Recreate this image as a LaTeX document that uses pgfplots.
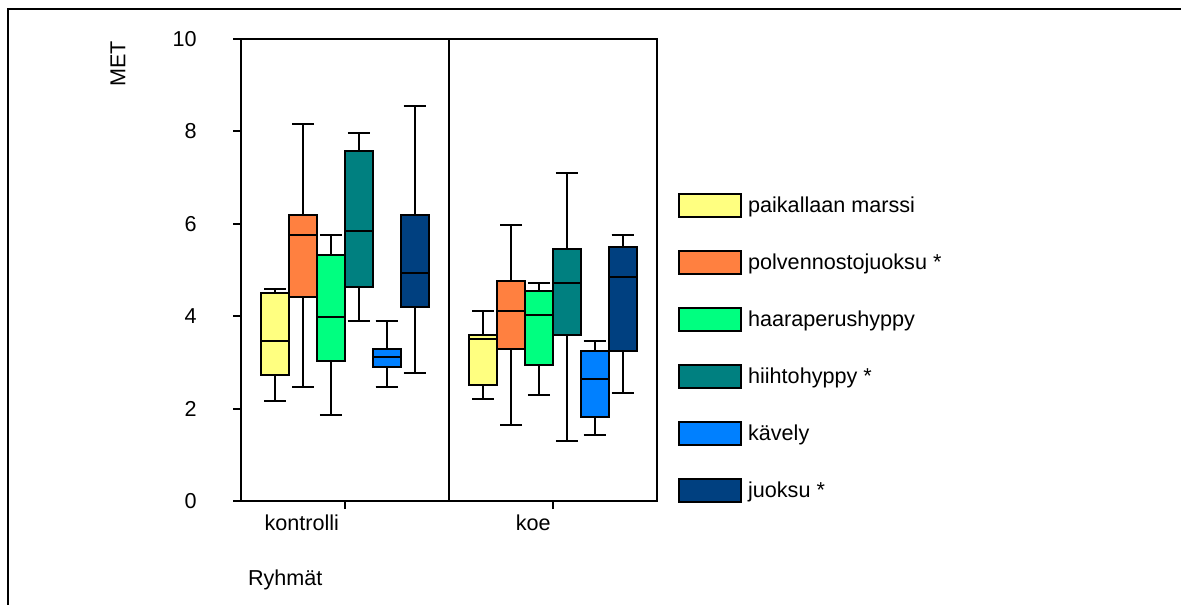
\documentclass[border=0pt]{standalone}
\usepackage{fontspec}
\setmainfont{Liberation Sans}
\usepackage{pgfplots}
\pgfplotsset{compat=1.18}
\usepgfplotslibrary{statistics}
\definecolor{cyel}{RGB}{255,255,128}
\definecolor{corg}{RGB}{255,128,64}
\definecolor{cgrn}{RGB}{0,255,128}
\definecolor{cteal}{RGB}{0,128,128}
\definecolor{cblue}{RGB}{0,128,255}
\definecolor{cnavy}{RGB}{0,64,128}
\pgfplotsset{
  mylegend/.style={legend image code/.code={\draw[##1,draw=black,line width=1pt] (0pt,-5.75pt) rectangle (31pt,5.75pt);}},
  bx/.style={boxplot prepared={#1, box extend=0.134, draw direction=y}, draw=black, line width=1pt, solid, forget plot},
}
\begin{document}
\begin{tikzpicture}[font=\fontsize{10.8}{13}\selectfont]
\useasboundingbox (0pt,0pt) rectangle (590.5pt,-302pt);
\draw[line width=1pt] (3.9pt,-310pt) -- (3.9pt,-4.75pt) -- (600pt,-4.75pt);
\begin{axis}[
  at={(120.5pt,-250.5pt)}, anchor=south west,
  width=208pt, height=231pt, scale only axis,
  xmin=0, xmax=2, ymin=0, ymax=10,
  ytick={0,2,4,6,8,10},
  xtick={0.5,1.5}, xticklabels={},
  tick align=outside, major tick length=4pt,
  xtick pos=bottom, ytick pos=left,
  axis line style={line width=1pt}, tick style={line width=1pt, black},
  /pgf/number format/assume math mode=true,
  yticklabel style={anchor=east, inner sep=0pt, xshift=-18pt},
  ylabel={MET},
  every axis y label/.style={at={(axis description cs:-0.296,0.946)}, rotate=90, anchor=center},
  xlabel={Ryhmät},
  every axis x label/.style={at={(axis description cs:0,-0.171)}, anchor=west},
  clip=false,
  legend style={draw=none, fill=none, at={(axis description cs:1.0498,0.667)}, anchor=north west,
    inner sep=0pt, row sep=16pt, column sep=3pt, nodes={inner sep=0pt}},
  legend cell align=left,
]
\addlegendimage{mylegend, fill=cyel}
\addlegendentry{paikallaan marssi}
\addlegendimage{mylegend, fill=corg}
\addlegendentry{polvennostojuoksu *}
\addlegendimage{mylegend, fill=cgrn}
\addlegendentry{haaraperushyppy}
\addlegendimage{mylegend, fill=cteal}
\addlegendentry{hiihtohyppy *}
\addlegendimage{mylegend, fill=cblue}
\addlegendentry{kävely}
\addlegendimage{mylegend, fill=cnavy}
\addlegendentry{juoksu *}
% kontrolli
\addplot[bx={draw position=0.165, lower whisker=2.17, lower quartile=2.72, median=3.47, upper quartile=4.50, upper whisker=4.59}, fill=cyel] coordinates {};
\addplot[bx={draw position=0.299, lower whisker=2.47, lower quartile=4.41, median=5.76, upper quartile=6.19, upper whisker=8.15}, fill=corg] coordinates {};
\addplot[bx={draw position=0.433, lower whisker=1.86, lower quartile=3.02, median=3.98, upper quartile=5.32, upper whisker=5.76}, fill=cgrn] coordinates {};
\addplot[bx={draw position=0.567, lower whisker=3.90, lower quartile=4.63, median=5.84, upper quartile=7.57, upper whisker=7.97}, fill=cteal] coordinates {};
\addplot[bx={draw position=0.701, lower whisker=2.47, lower quartile=2.90, median=3.11, upper quartile=3.29, upper whisker=3.90}, fill=cblue] coordinates {};
\addplot[bx={draw position=0.835, lower whisker=2.77, lower quartile=4.20, median=4.93, upper quartile=6.19, upper whisker=8.54}, fill=cnavy] coordinates {};
% koe
\addplot[bx={draw position=1.165, lower whisker=2.20, lower quartile=2.51, median=3.50, upper quartile=3.59, upper whisker=4.11}, fill=cyel] coordinates {};
\addplot[bx={draw position=1.299, lower whisker=1.64, lower quartile=3.29, median=4.11, upper quartile=4.76, upper whisker=5.97}, fill=corg] coordinates {};
\addplot[bx={draw position=1.433, lower whisker=2.29, lower quartile=2.94, median=4.02, upper quartile=4.54, upper whisker=4.72}, fill=cgrn] coordinates {};
\addplot[bx={draw position=1.567, lower whisker=1.29, lower quartile=3.59, median=4.72, upper quartile=5.45, upper whisker=7.10}, fill=cteal] coordinates {};
\addplot[bx={draw position=1.701, lower whisker=1.42, lower quartile=1.81, median=2.64, upper quartile=3.24, upper whisker=3.46}, fill=cblue] coordinates {};
\addplot[bx={draw position=1.835, lower whisker=2.33, lower quartile=3.24, median=4.85, upper quartile=5.50, upper whisker=5.76}, fill=cnavy] coordinates {};
\draw[line width=1pt] (axis cs:1,0) -- (axis cs:1,10);
\node[anchor=base, inner sep=0pt] at (axis cs:0.292,-0.628) {kontrolli};
\node[anchor=base, inner sep=0pt] at (axis cs:1.405,-0.628) {koe};
\end{axis}
\end{tikzpicture}
\end{document}
